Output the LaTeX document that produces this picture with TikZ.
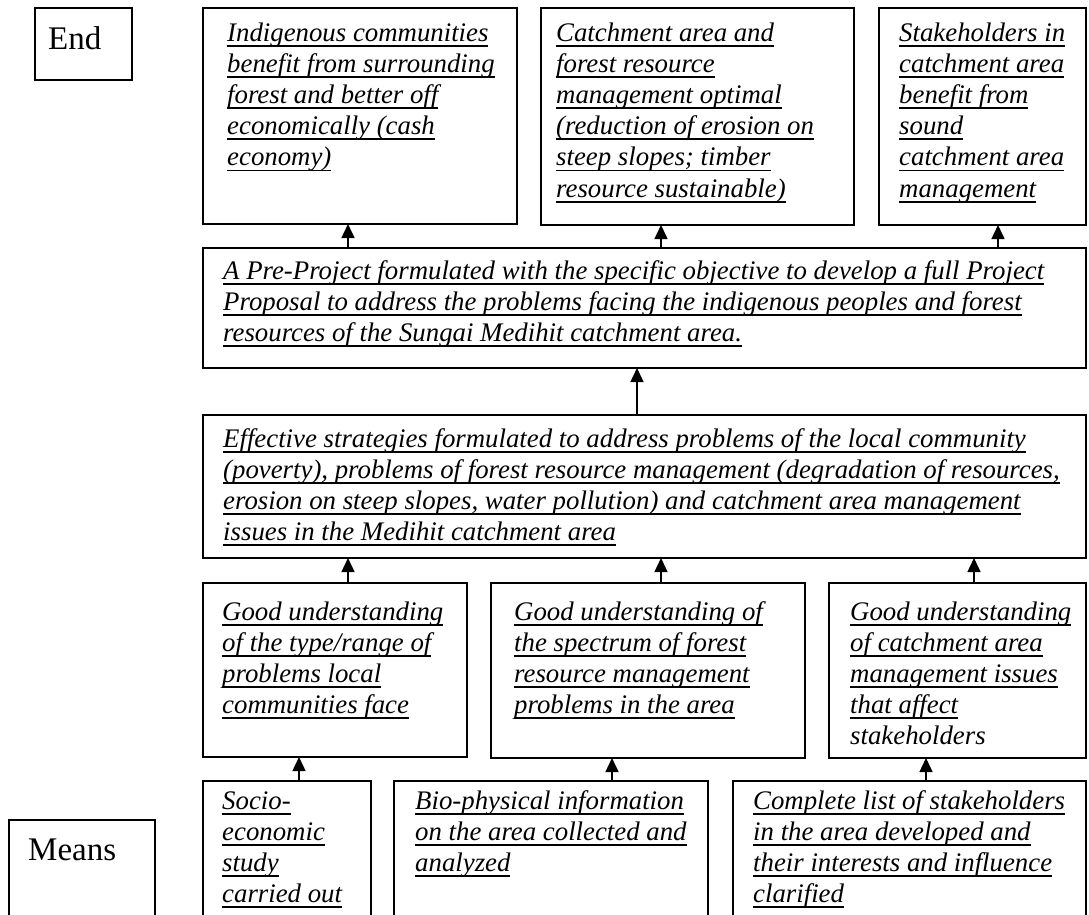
\documentclass[tikz,border=0pt]{standalone}
\usepackage{fontspec}
\setmainfont{Liberation Serif}
\usetikzlibrary{arrows.meta}
\newcommand\ulx[1]{\leavevmode\setbox0\hbox{#1}\rlap{\rule[-5.6pt]{\wd0}{1.8pt}}\box0}
\begin{document}
\begin{tikzpicture}[x=1pt,y=-1pt,
  box/.style={draw,line width=1.7pt,inner sep=0pt,outer sep=0pt,anchor=north west},
  txt/.style={inner sep=0pt,anchor=base west,font=\fontsize{26.8}{31.2}\selectfont\itshape},
  lbl/.style={inner sep=0pt,anchor=base west,font=\fontsize{33}{38}\selectfont},
  arr/.style={line width=1.5pt,-{Triangle[length=14pt,width=13pt]}}]
\useasboundingbox (0,0) rectangle (1089,914);
\clip (0,0) rectangle (1089,914);
% boxes
\node[box,minimum width=97pt,minimum height=72pt] (end) at (35,8) {};
\node[box,minimum width=314pt,minimum height=216pt] (a1) at (203,8) {};
\node[box,minimum width=313pt,minimum height=217pt] (a2) at (541,8) {};
\node[box,minimum width=207pt,minimum height=217pt] (a3) at (879,8) {};
\node[box,minimum width=883pt,minimum height=120pt] (p) at (203,248) {};
\node[box,minimum width=883pt,minimum height=143pt] (e) at (203,415) {};
\node[box,minimum width=264pt,minimum height=174pt] (b1) at (203,583) {};
\node[box,minimum width=314pt,minimum height=175pt] (b2) at (491,583) {};
\node[box,minimum width=257pt,minimum height=175pt] (b3) at (829,583) {};
\node[box,minimum width=168pt,minimum height=160pt] (c1) at (203,781) {};
\node[box,minimum width=314pt,minimum height=160pt] (c2) at (394,781) {};
\node[box,minimum width=353pt,minimum height=160pt] (c3) at (733,781) {};
\node[box,minimum width=146pt,minimum height=130pt] (means) at (9,820) {};
% labels
\node[lbl] (tend) at (48,49) {End};
\node[lbl] (tmeans) at (28,860) {Means};
% texts
\node[txt] (ta1) at (227,41) {\parbox[t]{300pt}{\ulx{Indigenous communities}\\\ulx{benefit from surrounding}\\\ulx{forest and better off}\\\ulx{economically (cash}\\\ulx{economy)}}};
\node[txt] (ta2) at (556,41) {\parbox[t]{300pt}{\ulx{Catchment area and}\\\ulx{forest resource}\\\ulx{management optimal}\\\ulx{(reduction of erosion on}\\\ulx{steep slopes; timber}\\\ulx{resource sustainable)}}};
\node[txt] (ta3) at (899,41) {\parbox[t]{200pt}{\ulx{Stakeholders in}\\\ulx{catchment area}\\\ulx{benefit from}\\\ulx{sound}\\\ulx{catchment area}\\\ulx{management}}};
\node[txt] (tp) at (223,279) {\parbox[t]{860pt}{\ulx{A Pre-Project formulated with the specific objective to develop a full Project}\\\ulx{Proposal to address the problems facing the indigenous peoples and forest}\\\ulx{resources of the Sungai Medihit catchment area.}}};
\node[txt] (te) at (223,447) {\parbox[t]{860pt}{\ulx{Effective strategies formulated to address problems of the local community}\\\ulx{(poverty), problems of forest resource management (degradation of resources,}\\\ulx{erosion on steep slopes, water pollution) and catchment area management}\\\ulx{issues in the Medihit catchment area}}};
\node[txt] (tb1) at (222,620) {\parbox[t]{250pt}{\ulx{Good understanding}\\\ulx{of the type/range of}\\\ulx{problems local}\\\ulx{communities face}}};
\node[txt] (tb2) at (514,620) {\parbox[t]{300pt}{\ulx{Good understanding of}\\\ulx{the spectrum of forest}\\\ulx{resource management}\\\ulx{problems in the area}}};
\node[txt] (tb3) at (850,620) {\parbox[t]{240pt}{\ulx{Good understanding}\\\ulx{of catchment area}\\\ulx{management issues}\\\ulx{that affect}\\stakeholders}};
\node[txt] (tc1) at (222,809) {\parbox[t]{160pt}{\ulx{Socio-}\\\ulx{economic}\\\ulx{study}\\\ulx{carried out}}};
\node[txt] (tc2) at (415,809) {\parbox[t]{300pt}{\ulx{Bio-physical information}\\\ulx{on the area collected and}\\\ulx{analyzed}}};
\node[txt] (tc3) at (753,809) {\parbox[t]{330pt}{\ulx{Complete list of stakeholders}\\\ulx{in the area developed and}\\\ulx{their interests and influence}\\\ulx{clarified}}};
% connectors
\draw[arr] (348,0 |- p.north) -- (348,0 |- a1.south);
\draw[arr] (661,0 |- p.north) -- (661,0 |- a2.south);
\draw[arr] (998,0 |- p.north) -- (998,0 |- a3.south);
\draw[arr] (637,0 |- e.north) -- (637,0 |- p.south);
\draw[arr] (348,0 |- b1.north) -- (348,0 |- e.south);
\draw[arr] (661,0 |- b2.north) -- (661,0 |- e.south);
\draw[arr] (974,0 |- b3.north) -- (974,0 |- e.south);
\draw[arr] (299,0 |- c1.north) -- (299,0 |- b1.south);
\draw[arr] (612,0 |- c2.north) -- (612,0 |- b2.south);
\draw[arr] (926,0 |- c3.north) -- (926,0 |- b3.south);
\end{tikzpicture}
\end{document}
